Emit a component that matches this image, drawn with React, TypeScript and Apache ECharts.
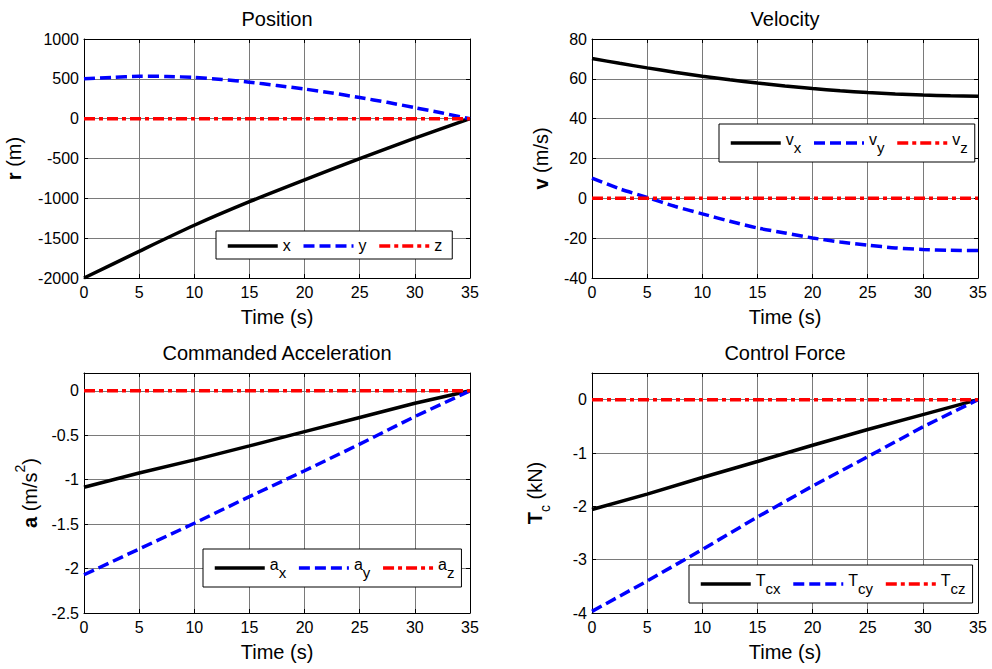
import React, { useEffect, useRef } from 'react';
import * as echarts from 'echarts';

const FONT = "Arial, 'Liberation Sans', Helvetica, sans-serif";

// Time bases (s)
const time5 = [0, 5, 10, 15, 20, 25, 30, 35];
const time25 = [0, 2.5, 5, 7.5, 10, 12.5, 15, 17.5, 20, 22.5, 25, 27.5, 30, 32.5, 35];
const timeEnds = [0, 35];

// Position (m)
const posX = [-2000, -1665, -1338, -1042, -768, -502, -245, 0];
const posY = [500, 518, 532, 530, 517, 492, 458, 416, 372, 322, 265, 205, 138, 70, 0];
const posZ = [0, 0];

// Velocity (m/s)
const velX = [70.2, 67.8, 65.5, 63.3, 61.3, 59.5, 57.9, 56.4, 55.1, 54.0, 53.1, 52.4, 51.9, 51.5, 51.3];
const velY = [10.2, 4.8, 0.5, -4, -7.8, -11.5, -14.9, -17.4, -19.9, -21.9, -23.5, -24.9, -25.7, -26.1, -26.2];
const velZ = [0, 0];

// Commanded acceleration (m/s^2)
const accX = [-1.085, -0.925, -0.777, -0.62, -0.46, -0.3, -0.14, 0];
const accY = [-2.07, -1.78, -1.49, -1.19, -0.9, -0.6, -0.29, 0];
const accZ = [0, 0];

// Control force (kN)
const frcX = [-2.06, -1.77, -1.46, -1.16, -0.855, -0.56, -0.28, 0];
const frcY = [-3.97, -3.4, -2.81, -2.2, -1.62, -1.07, -0.51, 0];
const frcZ = [0, 0];

// Axis ranges
const xRange = { min: 0, max: 35, interval: 5 };
const yRanges = [
  { min: -2000, max: 1000, interval: 500 },
  { min: -40, max: 80, interval: 20 },
  { min: -2.5, max: 0.2, interval: 0.5 },
  { min: -4, max: 0.5, interval: 1 },
];

const titles = ['Position', 'Velocity', 'Commanded Acceleration', 'Control Force'];
const xName = 'Time (s)';
const yNames = [
  '{b|r}{n| (m)}',
  '{b|v}{n| (m/s)}',
  '{b|a}{n| (m/s}{sup|2}{n|)}',
  '{b|T}{sub|c}{n| (kN)}',
];

const seriesNames = [
  ['x', 'y', 'z'],
  ['vx', 'vy', 'vz'],
  ['ax', 'ay', 'az'],
  ['Tcx', 'Tcy', 'Tcz'],
];
const legendLabels: Record<string, string> = {
  x: '{m|x}', y: '{m|y}', z: '{m|z}',
  vx: '{m|v}{s|x}', vy: '{m|v}{s|y}', vz: '{m|v}{s|z}',
  ax: '{m|a}{s|x}', ay: '{m|a}{s|y}', az: '{m|a}{s|z}',
  Tcx: '{m|T}{s|cx}', Tcy: '{m|T}{s|cy}', Tcz: '{m|T}{s|cz}',
};

const seriesData = [
  [[time5, posX], [time25, posY], [timeEnds, posZ]],
  [[time25, velX], [time25, velY], [timeEnds, velZ]],
  [[time5, accX], [time5, accY], [timeEnds, accZ]],
  [[time5, frcX], [time5, frcY], [timeEnds, frcZ]],
];
// which panels hold curved (smoothed) traces
const curvedPanels = [true, true, false, false];

const lineStyles = [
  { color: '#000000', width: 3.5, type: 'solid' },
  { color: '#0000ff', width: 3.5, type: [11, 5] },
  { color: '#ff0000', width: 3.5, type: [11, 4, 4, 4] },
];

const grids = [
  { left: 84, top: 39, width: 386, height: 239 },
  { left: 592, top: 39, width: 386, height: 239 },
  { left: 84, top: 373, width: 386, height: 240 },
  { left: 592, top: 373, width: 386, height: 240 },
];
const yNameGaps = [57, 38, 44, 40];
const legendPos = [
  { left: 216, top: 231 },
  { left: 719, top: 124 },
  { left: 203, top: 549 },
  { left: 689, top: 565 },
];

function pairs(t: number[], v: number[]) {
  return t.map((ti, i) => [ti, v[i]]);
}

function buildOption() {
  const xAxis: any[] = [];
  const yAxis: any[] = [];
  const series: any[] = [];
  const legend: any[] = [];
  const graphic: any[] = [];

  const axisLine = { show: true, onZero: false, lineStyle: { color: '#000', width: 1 } };
  const axisTick = { show: true, inside: true, length: 4, lineStyle: { color: '#000', width: 1 } };
  const split = { show: true, lineStyle: { color: '#7a7a7a', width: 1 } };
  const labelStyle = { fontSize: 16, color: '#000', fontFamily: FONT };

  grids.forEach((g, gi) => {
    xAxis.push({
      type: 'value', gridIndex: gi, position: 'bottom', ...xRange,
      axisLine, axisTick, splitLine: split,
      axisLabel: { ...labelStyle, margin: 6, formatter: (v: number) => String(v) },
      name: xName, nameLocation: 'middle', nameGap: 29,
      nameTextStyle: { fontSize: 20, color: '#000', fontFamily: FONT },
    });
    xAxis.push({
      type: 'value', gridIndex: gi, position: 'top', ...xRange,
      axisLine, axisTick, splitLine: { show: false }, axisLabel: { show: false },
    });
    const yr = yRanges[gi];
    const va = gi === 2 ? 'bottom' : gi === 3 ? 'top' : 'middle';
    yAxis.push({
      type: 'value', gridIndex: gi, position: 'left', ...yr,
      axisLine, axisTick, splitLine: split,
      axisLabel: { ...labelStyle, margin: 5, showMaxLabel: gi < 2, formatter: (v: number) => String(v) },
      name: yNames[gi], nameLocation: 'middle', nameGap: yNameGaps[gi],
      nameTextStyle: {
        fontSize: 20, color: '#000', fontFamily: FONT,
        rich: {
          b: { fontSize: 20, fontWeight: 'bold', fontFamily: FONT, color: '#000', lineHeight: 27, verticalAlign: va },
          n: { fontSize: 20, fontFamily: FONT, color: '#000', lineHeight: 27, verticalAlign: va },
          sup: { fontSize: 14, fontFamily: FONT, color: '#000', lineHeight: 27, verticalAlign: 'top' },
          sub: { fontSize: 14, fontFamily: FONT, color: '#000', lineHeight: 27, verticalAlign: 'bottom' },
        },
      },
    });
    yAxis.push({
      type: 'value', gridIndex: gi, position: 'right', ...yr,
      axisLine, axisTick, splitLine: { show: false }, axisLabel: { show: false },
    });

    seriesData[gi].forEach(([t, v], si) => {
      series.push({
        type: 'line',
        name: seriesNames[gi][si],
        xAxisIndex: gi * 2,
        yAxisIndex: gi * 2,
        data: pairs(t as number[], v as number[]),
        showSymbol: false,
        symbol: 'none',
        smooth: curvedPanels[gi] && t.length > 2 ? 0.25 : false,
        lineStyle: lineStyles[si],
        z: 2 + si,
      });
    });

    const hasSub = gi > 0;
    legend.push({
      data: seriesNames[gi],
      ...legendPos[gi],
      orient: 'horizontal',
      itemWidth: 50,
      itemHeight: 14,
      itemGap: 11,
      padding: hasSub ? [7, 7, 7, 10] : [6, 10, 6, 10],
      borderColor: '#000',
      borderWidth: 1,
      backgroundColor: '#fff',
      selectedMode: false,
      itemStyle: { opacity: 0 },
      lineStyle: { width: 3.5 },
      formatter: (name: string) => legendLabels[name],
      textStyle: {
        color: '#000', fontSize: 16, fontFamily: FONT,
        rich: {
          m: { fontSize: 16, fontFamily: FONT, color: '#000', lineHeight: hasSub ? 24 : 18, verticalAlign: 'top' },
          s: { fontSize: 15, fontFamily: FONT, color: '#000', lineHeight: 24, verticalAlign: 'bottom' },
        },
      },
    });

    graphic.push({
      type: 'text',
      x: g.left + g.width / 2,
      y: g.top - 20,
      style: {
        text: titles[gi], fontSize: 20, fontFamily: FONT, fill: '#000',
        align: 'center', verticalAlign: 'middle',
      },
    });
  });

  return {
    animation: false,
    backgroundColor: '#ffffff',
    grid: grids.map((g) => ({ ...g, containLabel: false })),
    xAxis,
    yAxis,
    series,
    legend,
    graphic,
  };
}

export default function App() {
  const ref = useRef<HTMLDivElement>(null);
  useEffect(() => {
    if (!ref.current) return;
    const chart = echarts.init(ref.current, null, { renderer: 'svg' });
    chart.setOption(buildOption() as any);
    return () => chart.dispose();
  }, []);
  return (
    <div
      ref={ref}
      style={{ position: 'fixed', left: 0, top: 0, width: 992, height: 669, background: '#fff' }}
    />
  );
}
